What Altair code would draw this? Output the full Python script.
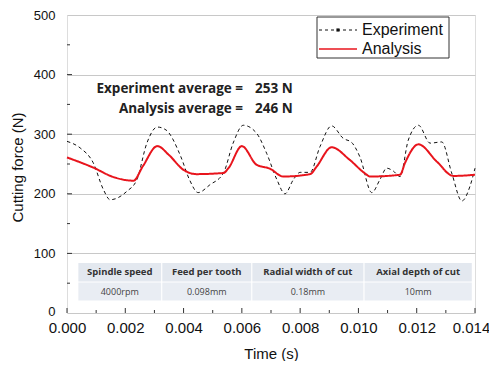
import altair as alt
import pandas as pd

# ---- data ----
t_exp = [0, 0.00045, 0.0009, 0.00125, 0.00148, 0.00205, 0.0024, 0.00274, 0.0031, 0.0034,
         0.0039, 0.0042, 0.0045, 0.0049, 0.00537, 0.0057, 0.00605, 0.0065, 0.00685, 0.0072,
         0.00748, 0.00777, 0.008, 0.00834, 0.00868, 0.00908, 0.00948, 0.00977, 0.01005, 0.01046,
         0.01074, 0.01097, 0.0112, 0.01143, 0.01171, 0.01206, 0.01246, 0.01286, 0.0132, 0.01355,
         0.01383, 0.014]
f_exp = [288, 277, 252, 207, 190, 204, 224, 285, 312, 307,
         263, 224, 202, 215, 235, 285, 315, 302, 268, 224,
         200, 224, 236, 236, 279, 314, 293, 286, 262, 202,
         224, 243, 238, 229, 290, 315, 285, 287, 235, 188,
         213, 243]

t_ana = [0, 0.0009, 0.0016, 0.00228, 0.0026, 0.0031, 0.0035, 0.0040, 0.00445, 0.00537,
         0.00554, 0.0060, 0.0065, 0.00697, 0.00742, 0.00834, 0.00857, 0.00908, 0.0097, 0.01023,
         0.0104, 0.01143, 0.0116, 0.01206, 0.01269, 0.01326, 0.014]
f_ana = [261, 244, 228, 222, 246, 280, 265, 240, 233, 235,
         243, 280, 249, 242, 229, 233, 246, 278, 257, 234,
         229, 232, 252, 283, 254, 230, 232]

series_names = ["Experiment", "Analysis"]
avg_names = ["Experiment average =", "Analysis average ="]
avg_values = ["253 N", "246 N"]

table_headers = ["Spindle speed", "Feed per tooth", "Radial width of cut", "Axial depth of cut"]
table_values = ["4000rpm", "0.098mm", "0.18mm", "10mm"]

x_major = [0, 0.002, 0.004, 0.006, 0.008, 0.010, 0.012, 0.014]
x_minor = [0.001, 0.003, 0.005, 0.007, 0.009, 0.011, 0.013]
y_major = [100, 200, 300, 400]
y_minor = [50, 150, 250, 350, 450]

# ---- layout (annotation positions) ----
col_left = [0.00039, 0.00327, 0.00636, 0.01021]
col_right = [0.00323, 0.00632, 0.01017, 0.01389]
hdr_lo, hdr_hi = 53, 84
val_lo, val_hi = 21, 51
avg_rows = [376, 343]          # force units where the two average lines sit

W, H = 408, 298
BLACK = "#111111"
RED = "#e8141c"

lines = pd.DataFrame(
    {"t": t_exp + t_ana,
     "f": f_exp + f_ana,
     "series": [series_names[0]] * len(t_exp) + [series_names[1]] * len(t_ana)}
)

def xs():
    return alt.Scale(domain=[0, 0.014], nice=False, zero=False)

def ys():
    return alt.Scale(domain=[0, 500], nice=False)

main_x = alt.X("t:Q", scale=xs(),
               axis=alt.Axis(values=x_major, format=".3f", title="Time (s)", grid=False,
                             ticks=False, labelFontSize=15, labelPadding=7,
                             labelOffset=alt.condition("datum.value >= 0.0139", alt.value(-4), alt.value(0)),
                             labelFont="Liberation Sans", labelColor=BLACK,
                             titleFont="Liberation Sans", titleFontSize=15, titleFontWeight="normal",
                             titleColor=BLACK, titleY=40, titleBaseline="middle",
                             domain=False, labelFlush=False))
main_y = alt.Y("f:Q", scale=ys(),
               axis=alt.Axis(values=[0, 100, 200, 300, 400, 500], title="Cutting force (N)",
                             grid=True, gridColor="#c8c8c8", gridWidth=1,
                             ticks=False, labelFontSize=13, labelPadding=12,
                             labelOffset=alt.condition("datum.value == 0", alt.value(-2), alt.value(0)),
                             labelFont="Liberation Sans", labelColor=BLACK,
                             titleFont="Liberation Sans", titleFontSize=15, titleFontWeight="normal",
                             titleColor=BLACK, titleX=-50, titleY=152, titleAngle=-90,
                             titleBaseline="middle", titleAlign="center",
                             domain=False, labelFlush=False))

line_layer = alt.Chart(lines).mark_line(interpolate="monotone").encode(
    x=main_x,
    y=main_y,
    color=alt.Color("series:N",
                    scale=alt.Scale(domain=series_names, range=[BLACK, RED]), legend=None),
    strokeDash=alt.StrokeDash("series:N",
                              scale=alt.Scale(domain=series_names, range=[[3.5, 3], [1, 0]]),
                              legend=None),
    strokeWidth=alt.StrokeWidth("series:N",
                                scale=alt.Scale(domain=series_names, range=[1, 2]),
                                legend=None),
    order=alt.Order("series:N", sort="descending"),
)

# ---- table ----
tbl = pd.DataFrame({
    "x1": col_left * 2, "x2": col_right * 2,
    "y1": [hdr_lo] * 4 + [val_lo] * 4, "y2": [hdr_hi] * 4 + [val_hi] * 4,
    "txt": table_headers + table_values,
    "row": ["h"] * 4 + ["v"] * 4,
})
tbl["xm"] = (tbl["x1"] + tbl["x2"]) / 2
tbl["ym"] = (tbl["y1"] + tbl["y2"]) / 2

tbl_rect = alt.Chart(tbl).mark_rect(stroke=None).encode(
    x=alt.X("x1:Q", scale=xs(), axis=None), x2="x2:Q",
    y=alt.Y("y1:Q", scale=ys(), axis=None), y2="y2:Q",
    fill=alt.Fill("row:N", scale=alt.Scale(domain=["h", "v"], range=["#e3e8ef", "#e9edf3"]),
                  legend=None),
)
tbl_hdr = alt.Chart(tbl[tbl.row == "h"]).mark_text(
    font="Open Sans", fontSize=9.5, fontWeight="bold", color="#333", baseline="middle"
).encode(x=alt.X("xm:Q", scale=xs(), axis=None), y=alt.Y("ym:Q", scale=ys(), axis=None),
         text="txt:N")
tbl_val = alt.Chart(tbl[tbl.row == "v"]).mark_text(
    font="Open Sans", fontSize=9, color="#444", baseline="middle"
).encode(x=alt.X("xm:Q", scale=xs(), axis=None), y=alt.Y("ym:Q", scale=ys(), axis=None),
         text="txt:N")

# ---- averages text ----
avg = pd.DataFrame({"name": avg_names, "val": avg_values, "f": avg_rows})
avg_name = alt.Chart(avg).mark_text(
    font="Open Sans", fontSize=13.5, fontWeight="bold", color="#222", align="right",
    baseline="middle"
).encode(x=alt.value(176), y=alt.Y("f:Q", scale=ys(), axis=None), text="name:N")
avg_val = alt.Chart(avg).mark_text(
    font="Open Sans", fontSize=13.5, fontWeight="bold", color="#222", align="left",
    baseline="middle"
).encode(x=alt.value(188), y=alt.Y("f:Q", scale=ys(), axis=None), text="val:N")

# ---- legend (drawn) ----
leg = pd.DataFrame({"series": series_names, "k": [0, 1]})
leg_box = alt.Chart(pd.DataFrame({"a": [0]})).mark_rect(
    fill="white", stroke="#333", strokeWidth=1
).encode(x=alt.value(250), x2=alt.value(382), y=alt.value(2), y2=alt.value(43))
leg_exp_line = alt.Chart(leg[leg.k == 0]).mark_rule(
    color=BLACK, strokeDash=[3, 3], strokeWidth=1
).encode(x=alt.value(252), x2=alt.value(290), y=alt.value(15))
leg_exp_dot = alt.Chart(leg[leg.k == 0]).mark_point(
    filled=True, color=BLACK, size=10, shape="square", opacity=1
).encode(x=alt.value(271), y=alt.value(15))
leg_ana_line = alt.Chart(leg[leg.k == 1]).mark_rule(
    color=RED, strokeWidth=1.5
).encode(x=alt.value(252), x2=alt.value(290), y=alt.value(34))
leg_text = alt.Chart(leg).mark_text(
    font="Liberation Sans", fontSize=16, color=BLACK, align="left", baseline="middle"
).encode(
    x=alt.value(295),
    y=alt.Y("k:Q", scale=alt.Scale(domain=[0, 1], range=[15, 34]), axis=None),
    text="series:N",
)

# ---- inward ticks ----
xt_major = alt.Chart(pd.DataFrame({"t": x_major})).mark_rule(color="#333").encode(
    x=alt.X("t:Q", scale=xs(), axis=None), y=alt.value(H), y2=alt.value(H - 5))
xt_minor = alt.Chart(pd.DataFrame({"t": x_minor})).mark_rule(color="#333").encode(
    x=alt.X("t:Q", scale=xs(), axis=None), y=alt.value(H), y2=alt.value(H - 3))
yt_major = alt.Chart(pd.DataFrame({"f": y_major})).mark_rule(color="#333").encode(
    y=alt.Y("f:Q", scale=ys(), axis=None), x=alt.value(0), x2=alt.value(5))
yt_minor = alt.Chart(pd.DataFrame({"f": y_minor})).mark_rule(color="#333").encode(
    y=alt.Y("f:Q", scale=ys(), axis=None), x=alt.value(0), x2=alt.value(3))

chart = alt.layer(
    line_layer, tbl_rect, tbl_hdr, tbl_val, avg_name, avg_val,
    leg_box, leg_exp_line, leg_exp_dot, leg_ana_line, leg_text,
    xt_major, xt_minor, yt_major, yt_minor
).resolve_scale(x="independent", y="independent").properties(
    width=W, height=H,
    autosize=alt.AutoSizeParams(type="none"),
    padding={"left": 59, "top": 7, "right": 14, "bottom": 48},
).configure_view(
    stroke="#333", strokeWidth=1.2
).configure(background="white")

chart.save("out.html", embed_options={"renderer": "svg", "actions": False})
